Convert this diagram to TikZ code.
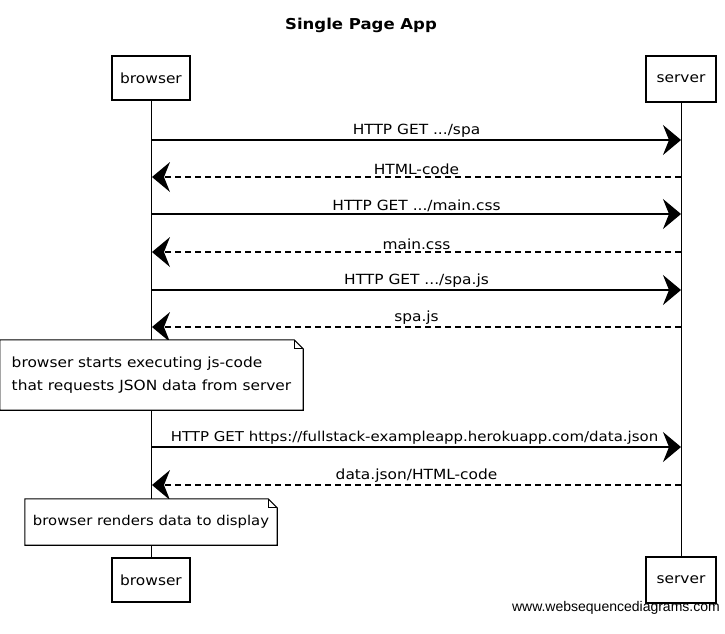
\documentclass[tikz,border=0pt]{standalone}
\usepackage{fontspec}
\setmainfont{DejaVu Sans}[FakeStretch=1.1]
\newfontfamily\wmfont{Liberation Sans}
\usetikzlibrary{arrows.meta}
\begin{document}
\begin{tikzpicture}[x=1pt,y=-1pt,
  every node/.style={font=\fontsize{14}{23}\selectfont},
  actor/.style={draw, line width=1.1pt, fill=white, inner sep=0pt, minimum width=78pt, minimum height=44pt},
  lifeline/.style={line width=1pt},
  req/.style={line width=1.2pt, -{Stealth[length=18pt,width=30pt,inset=6pt]}},
  resp/.style={line width=1.2pt, dash pattern=on 6pt off 4pt, -{Stealth[length=18pt,width=30pt,inset=6pt,line width=0pt]}},
  lbl/.style={midway, above=1pt, inner sep=1pt},
  note/.style={fill=white, inner sep=0pt, align=left},
  noteline/.style={line width=1.1pt}
]
\useasboundingbox (0,0) rectangle (725,633);
\fill[white] (0,0) rectangle (725,633);

% title
\node (title) at (361,25) {\fontsize{15}{17}\selectfont\bfseries Single Page App};

% actors
\node[actor] (bt) at (151,78) {browser};
\node[actor, minimum width=70pt, minimum height=46pt] (st) at (681,79) {server};
\node[actor] (bb) at (151,580) {browser};
\node[actor, minimum width=70pt, minimum height=46pt] (sb) at (681,580) {server};

% lifelines
\draw[lifeline] (bt.south) -- (bb.north);
\draw[lifeline] (st.south) -- (sb.north);

% message end points
\coordinate (b1) at (152,140); \coordinate (s1) at (681,140);
\coordinate (b2) at (152,177); \coordinate (s2) at (681,177);
\coordinate (b3) at (152,214); \coordinate (s3) at (681,214);
\coordinate (b4) at (152,252); \coordinate (s4) at (681,252);
\coordinate (b5) at (152,290); \coordinate (s5) at (681,290);
\coordinate (b6) at (152,327); \coordinate (s6) at (681,327);
\coordinate (b7) at (152,447); \coordinate (s7) at (681,447);
\coordinate (b8) at (152,485); \coordinate (s8) at (681,485);

\draw[req]  (b1) -- node[lbl] (l1) {HTTP GET .../spa} (s1);
\draw[resp] (s2) -- node[lbl] (l2) {HTML-code} (b2);
\draw[req]  (b3) -- node[lbl] (l3) {HTTP GET .../main.css} (s3);
\draw[resp] (s4) -- node[lbl] (l4) {main.css} (b4);
\draw[req]  (b5) -- node[lbl] (l5) {HTTP GET .../spa.js} (s5);
\draw[resp] (s6) -- node[lbl] (l6) {spa.js} (b6);
\draw[req]  (b7) -- node[lbl, font=\fontsize{13.6}{16}\selectfont, xshift=-2pt] (l7) {HTTP GET https://fullstack-exampleapp.herokuapp.com/data.json} (s7);
\draw[resp] (s8) -- node[lbl] (l8) {data.json/HTML-code} (b8);

% notes
\node[note, minimum width=303pt, minimum height=70pt] (n1) at (151.5,375)
  {browser starts executing js-code\\that requests JSON data from server};
\draw[noteline] (n1.north west) -- ([xshift=-9pt]n1.north east) -- ([yshift=-9pt]n1.north east)
  -- (n1.south east) -- (n1.south west) -- cycle;
\draw[noteline] ([xshift=-9pt]n1.north east) |- ([yshift=-9pt]n1.north east);

\node[note, minimum width=252pt, minimum height=46pt, font=\fontsize{13.5}{16}\selectfont] (n2) at (151,522)
  {browser renders data to display};
\draw[noteline] (n2.north west) -- ([xshift=-9pt]n2.north east) -- ([yshift=-9pt]n2.north east)
  -- (n2.south east) -- (n2.south west) -- cycle;
\draw[noteline] ([xshift=-9pt]n2.north east) |- ([yshift=-9pt]n2.north east);

% watermark
\node[anchor=east, inner sep=0pt] (wm) at (720,608) {\wmfont\fontsize{14}{16}\selectfont www.websequencediagrams.com};
\end{tikzpicture}
\end{document}
